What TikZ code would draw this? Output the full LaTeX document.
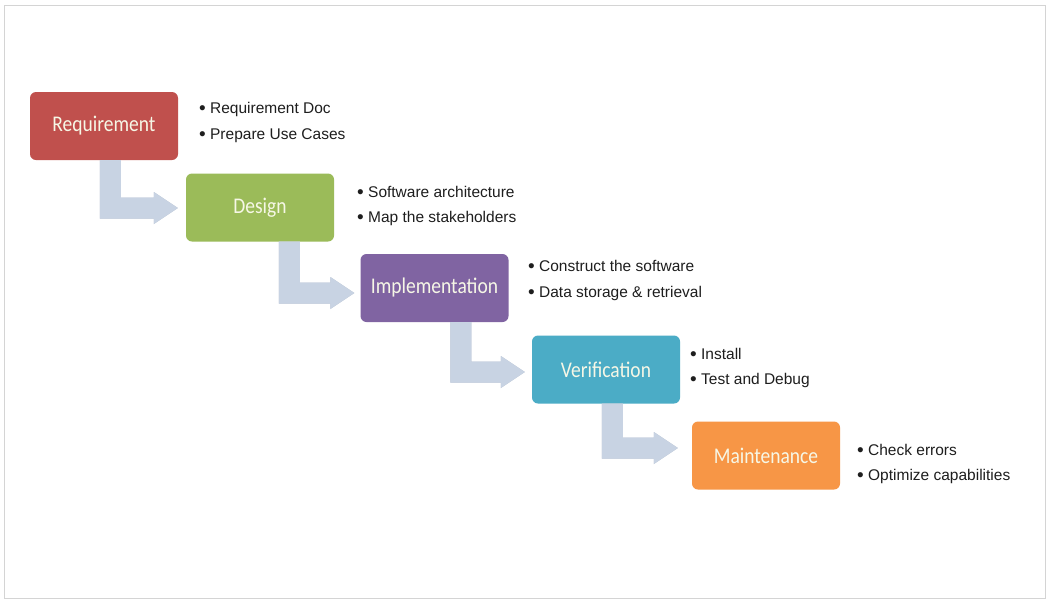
\documentclass[tikz,border=0pt]{standalone}
\usepackage{fontspec}
\setmainfont{Liberation Sans}
\newfontfamily\boxfont{Carlito}
\usetikzlibrary{calc}
\definecolor{reqred}{HTML}{C0504D}
\definecolor{desgreen}{HTML}{9BBB59}
\definecolor{imppurple}{HTML}{8064A2}
\definecolor{verteal}{HTML}{4BACC6}
\definecolor{mainorange}{HTML}{F79646}
\definecolor{arrowblue}{HTML}{C8D3E3}
\definecolor{arrowshade}{HTML}{B4BFCF}
\definecolor{boxtext}{HTML}{F6F7E6}
\definecolor{bultext}{HTML}{1E1E1E}
\definecolor{framegray}{HTML}{D4D4D4}
\tikzset{
  stagebox/.style={rectangle, rounded corners=6pt, minimum width=148pt, minimum height=68pt,
    inner sep=0pt, text=boxtext, font=\boxfont\fontsize{19.5}{22}\selectfont},
  bullets/.style={anchor=west, align=left, inner sep=0pt, text=bultext,
    font=\fontsize{15.5}{25.5}\selectfont},
  bentarrowfill/.style={fill=arrowblue},
  bentarrowshade/.style={fill=arrowshade}
}
\newcommand\bt[1]{\scalebox{1}[1.15]{#1}}
\newcommand\bl{{\fontsize{19}{19}\selectfont\raisebox{-0.9pt}{\textbullet}}\ }
% #1 from node, #2 to node, #3 x offset of shaft from left of #1, #4 gap before #2, #5 tip y offset (down), #6 style
\newcommand\bentshape[6]{%
  \fill[#6] let \p1=($(#1.south west)+(#3,0)$), \p2=($(#2.west)+(-#4,#5)$) in
    (\x1,\y1) -- (\x1+21pt,\y1) -- (\x1+21pt,\y2+10.5pt) -- (\x2-24pt,\y2+10.5pt)
    -- (\x2-24pt,\y2+16pt) -- (\x2,\y2) -- (\x2-24pt,\y2-16pt) -- (\x2-24pt,\y2-10.5pt)
    -- (\x1,\y2-10.5pt) -- cycle;}
\newcommand\bentarrow[5]{%
  \begin{scope}[shift={(0.8,1.6)}]\bentshape{#1}{#2}{#3}{#4}{#5}{bentarrowshade}\end{scope}
  \bentshape{#1}{#2}{#3}{#4}{#5}{bentarrowfill}}
\begin{document}
\begin{tikzpicture}[x=1pt,y=-1pt]
\useasboundingbox (0,0) rectangle (1047,600);
\fill[white] (0,0) rectangle (1047,600);
\draw[framegray, line width=1pt] (4.5,5.5) rectangle (1045.5,598);

\node[stagebox, fill=reqred] (req) at (104,126) {\bt{Requirement}};
\node[stagebox, fill=desgreen] (des) at (260,207.5) {\bt{Design}};
\node[stagebox, fill=imppurple] (imp) at (434.5,288) {\bt{Implementation}};
\node[stagebox, fill=verteal] (ver) at (606,369.5) {\bt{Verification}};
\node[stagebox, fill=mainorange] (mai) at (766,455.5) {\bt{Maintenance}};

\bentarrow{req}{des}{70}{8}{0.5}
\bentarrow{des}{imp}{93}{6}{5}
\bentarrow{imp}{ver}{90}{7}{2.5}
\bentarrow{ver}{mai}{70}{14}{-7.5}

\node[bullets] (reqb) at (199,122.5) {\bl Requirement Doc\\\bl Prepare Use Cases};
\node[bullets] (desb) at (357,206) {\bl Software architecture\\\bl Map the stakeholders};
\node[bullets] (impb) at (528,280.5) {\bl Construct the software\\\bl Data storage \& retrieval};
\node[bullets] (verb) at (690,368) {\bl Install\\\bl Test and Debug};
\node[bullets] (maib) at (857,464) {\bl Check errors\\\bl Optimize capabilities};
\end{tikzpicture}
\end{document}
